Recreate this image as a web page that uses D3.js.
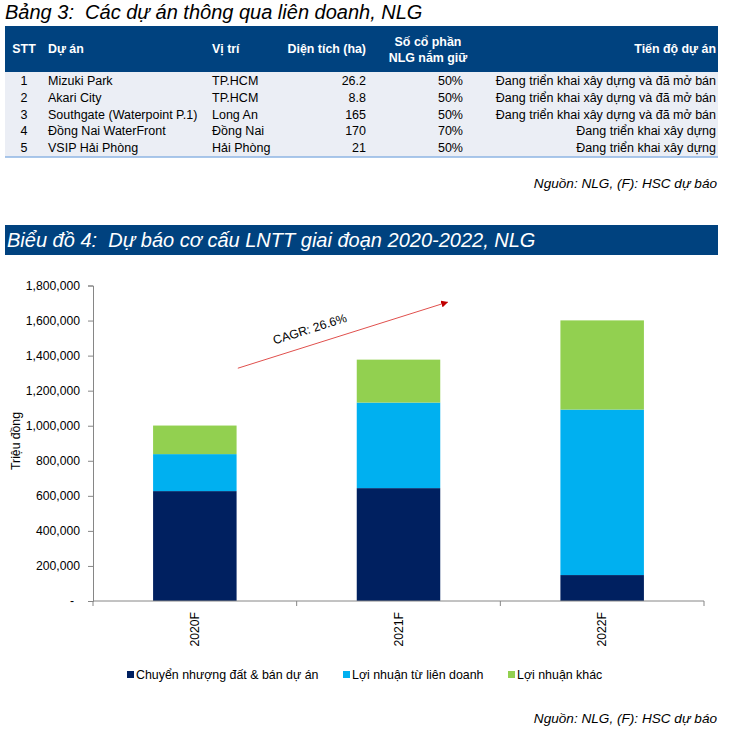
<!DOCTYPE html>
<html><head><meta charset="utf-8">
<script src="https://cdn.jsdelivr.net/npm/d3@7"></script>
<style>body{margin:0;background:#fff;font-family:"Liberation Sans",Arial,sans-serif} text{white-space:pre}</style>
</head><body>
<script>
// ---- Table data ----
const tableHeaders = ["STT","Dự án","Vị trí","Diện tích (ha)","Số cổ phần|NLG nắm giữ","Tiến độ dự án"];
const stt = ["1","2","3","4","5"];
const projects = ["Mizuki Park","Akari City","Southgate (Waterpoint P.1)","Đồng Nai WaterFront","VSIP Hải Phòng"];
const locations = ["TP.HCM","TP.HCM","Long An","Đồng Nai","Hải Phòng"];
const areas = ["26.2","8.8","165","170","21"];
const stakes = ["50%","50%","50%","70%","50%"];
const progress = ["Đang triển khai xây dựng và đã mở bán","Đang triển khai xây dựng và đã mở bán","Đang triển khai xây dựng và đã mở bán","Đang triển khai xây dựng","Đang triển khai xây dựng"];

// ---- Chart data ----
const categories = ["2020F","2021F","2022F"];
const seriesNames = ["Chuyển nhượng đất & bán dự án","Lợi nhuận từ liên doanh","Lợi nhuận khác"];
const landSales = [627000, 644000, 148000];
const jvProfit = [211000, 488000, 944000];
const otherProfit = [163000, 245000, 509000];
const yTicks = [0,200000,400000,600000,800000,1000000,1200000,1400000,1600000,1800000];
const colors = ["#002060","#00B0F0","#92D050"];

const W = 749, H = 735;
const svg = d3.select("body").append("svg").attr("width",W).attr("height",H);
const font = "'Liberation Sans', Arial, sans-serif";
const navy = "#00427F";

// ---- Table ----
svg.append("text").attr("x",5).attr("y",19).attr("font-size",20).attr("font-style","italic")
  .attr("font-family",font).attr("fill","#000").text("Bảng 3:  Các dự án thông qua liên doanh, NLG");
svg.append("rect").attr("x",5).attr("y",26).attr("width",713).attr("height",46).attr("fill",navy);
svg.append("rect").attr("x",5).attr("y",72).attr("width",713).attr("height",85).attr("fill","#EBEEF5");
svg.append("line").attr("x1",5).attr("x2",718).attr("y1",157).attr("y2",157).attr("stroke","#8EB4E3").attr("stroke-width",1.5);

const cols = [
  {x:24, anchor:"middle"},
  {x:48, anchor:"start"},
  {x:212, anchor:"start"},
  {x:366, anchor:"end"},
  {x:463, anchor:"end"},
  {x:716, anchor:"end"}
];
const hdr = svg.append("g").attr("font-family",font).attr("font-size",12.4).attr("font-weight","bold").attr("fill","#fff");
tableHeaders.forEach((h,i)=>{
  const parts = h.split("|");
  if (parts.length===1) {
    hdr.append("text").attr("x",cols[i].x).attr("y",53).attr("text-anchor",cols[i].anchor).text(h);
  } else {
    parts.forEach((p,j)=>hdr.append("text").attr("x",428).attr("y",46+j*16).attr("text-anchor","middle").text(p));
  }
});
const rows = stt.map((s,i)=>[s,projects[i],locations[i],areas[i],stakes[i],progress[i]]);
const body = svg.append("g").attr("font-family",font).attr("font-size",12.5).attr("fill","#000");
rows.forEach((r,ri)=>{
  r.forEach((v,ci)=>{
    body.append("text").attr("x",cols[ci].x).attr("y",85+ri*16.8).attr("text-anchor",cols[ci].anchor).text(v);
  });
});
svg.append("text").attr("x",717).attr("y",188).attr("text-anchor","end").attr("font-family",font)
  .attr("font-size",13.6).attr("font-style","italic").text("Nguồn: NLG, (F): HSC dự báo");

// ---- Chart title bar ----
svg.append("rect").attr("x",5).attr("y",225).attr("width",713).attr("height",30).attr("fill",navy);
svg.append("text").attr("x",7).attr("y",247).attr("font-size",20).attr("font-style","italic")
  .attr("font-family",font).attr("fill","#fff").text("Biểu đồ 4:  Dự báo cơ cấu LNTT giai đoạn 2020-2022, NLG");

// ---- Chart ----
const x0 = 93, x1 = 704, yTop = 285.5, yBot = 601;
const x = d3.scaleBand().domain(categories).range([x0,x1]).paddingInner(0.59).paddingOuter(0.295);
const y = d3.scaleLinear().domain([0,1800000]).range([yBot,yTop]);

const data = categories.map((c,i)=>({cat:c, s0:landSales[i], s1:jvProfit[i], s2:otherProfit[i]}));
const stack = d3.stack().keys(["s0","s1","s2"])(data);
const g = svg.append("g");
stack.forEach((layer,li)=>{
  g.selectAll(null).data(layer).enter().append("rect")
    .attr("x",d=>x(d.data.cat)).attr("width",x.bandwidth())
    .attr("y",d=>y(d[1])).attr("height",d=>y(d[0])-y(d[1]))
    .attr("fill",colors[li]);
});

// Y axis
const yAxis = d3.axisLeft(y).tickValues(yTicks).tickSize(5).tickPadding(8)
  .tickFormat(d=> d===0 ? "-" : d3.format(",")(d));
const ya = svg.append("g").attr("transform",`translate(${x0},0)`).call(yAxis);
ya.select(".domain").attr("stroke","#868686");
ya.selectAll(".tick line").attr("stroke","#868686");
ya.selectAll("text").attr("font-family",font).attr("font-size",12.2).attr("fill","#000");
ya.selectAll(".tick").filter(d=>d===0).select("text").attr("dx",-6);

// X axis
const xa = svg.append("g").attr("transform",`translate(0,${yBot})`);
xa.append("line").attr("x1",x0).attr("x2",x1).attr("y1",0).attr("y2",0).attr("stroke","#868686");
d3.range(categories.length+1).forEach(i=>{
  const tx = x0 + i*(x1-x0)/categories.length;
  xa.append("line").attr("x1",tx).attr("x2",tx).attr("y1",0).attr("y2",5).attr("stroke","#868686");
});
categories.forEach(c=>{
  const cx = x(c)+x.bandwidth()/2;
  xa.append("text").attr("transform",`translate(${cx+4},${11}) rotate(-90)`).attr("text-anchor","end")
    .attr("font-family",font).attr("font-size",12.2).attr("fill","#000").text(c);
});

// Y label
svg.append("text").attr("transform","translate(20,441) rotate(-90)").attr("text-anchor","middle")
  .attr("font-family",font).attr("font-size",12.2).attr("fill","#000").text("Triệu đồng");

// CAGR arrow annotation
const defs = svg.append("defs");
defs.append("marker").attr("id","arr").attr("viewBox","0 0 10 10").attr("refX",9).attr("refY",5)
  .attr("markerWidth",7).attr("markerHeight",7).attr("orient","auto")
  .append("path").attr("d","M0,0 L10,5 L0,10 z").attr("fill","#C00000");
const ax1 = x("2020F")+x.bandwidth()/2+43, ay1 = y(1328000);
const ax2 = x("2021F")+x.bandwidth()/2+49, ay2 = y(1705000);
svg.append("line").attr("x1",ax1).attr("y1",ay1).attr("x2",ax2).attr("y2",ay2)
  .attr("stroke","#E0504D").attr("stroke-width",1).attr("marker-end","url(#arr)");
const ang = Math.atan2(ay2-ay1, ax2-ax1)*180/Math.PI;
svg.append("text").attr("transform",`translate(311,333) rotate(${ang})`).attr("text-anchor","middle")
  .attr("font-family",font).attr("font-size",12.2).attr("fill","#000").text("CAGR: 26.6%");

// Legend
const legX = [127,343,508];
seriesNames.forEach((n,i)=>{
  svg.append("rect").attr("x",legX[i]).attr("y",671).attr("width",7).attr("height",7).attr("fill",colors[i]);
  svg.append("text").attr("x",legX[i]+9).attr("y",679).attr("font-family",font).attr("font-size",12.4)
    .attr("fill","#000").text(n);
});

svg.append("text").attr("x",717).attr("y",723).attr("text-anchor","end").attr("font-family",font)
  .attr("font-size",13.6).attr("font-style","italic").text("Nguồn: NLG, (F): HSC dự báo");
</script>
</body></html>
